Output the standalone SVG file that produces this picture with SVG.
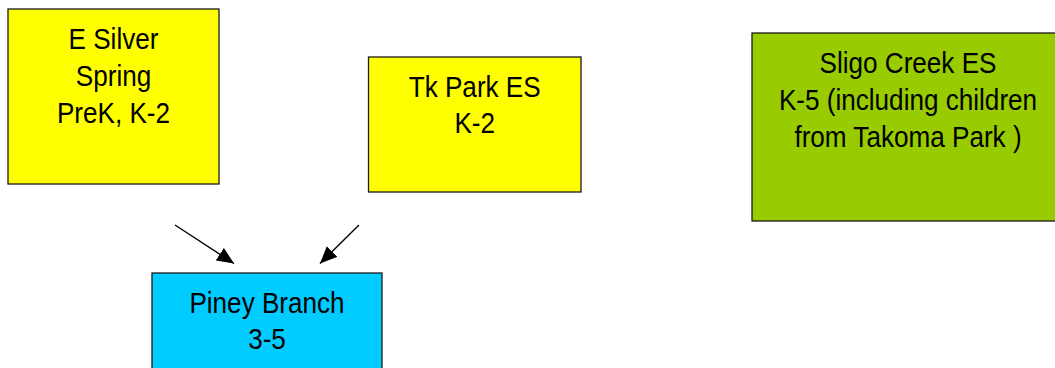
<svg xmlns="http://www.w3.org/2000/svg" width="1055" height="368" viewBox="0 0 1055 368">
<style>
.box{stroke:#1a1a1a;stroke-width:1.3}
.t{font-family:"Liberation Sans",Arial,sans-serif;font-size:29.5px;fill:#000;text-anchor:middle}
.c{stroke:#000;stroke-width:1.4;fill:none}
</style>
<defs>
<marker id="ah" markerUnits="userSpaceOnUse" markerWidth="18" markerHeight="16" refX="17" refY="8" orient="auto">
<path d="M0,0.5 L17,8 L0,15.5 z" fill="#000"/>
</marker>
</defs>
<rect width="1055" height="368" fill="#fff"/>
<g id="e-silver-spring">
<rect class="box" x="8" y="9" width="211" height="175" fill="#ffff00"/>
<g transform="translate(113.5,0) scale(0.885,1)">
<text class="t" x="0" y="49.3">E Silver</text>
<text class="t" x="0" y="86">Spring</text>
<text class="t" x="0" y="122.7">PreK, K-2</text>
</g>
</g>
<g id="tk-park-es">
<rect class="box" x="368.5" y="57" width="212.5" height="135" fill="#ffff00"/>
<g transform="translate(474.7,0) scale(0.885,1)">
<text class="t" x="0" y="96.7">Tk Park ES</text>
<text class="t" x="0" y="133.4">K-2</text>
</g>
</g>
<g id="sligo-creek-es">
<rect class="box" x="752" y="33" width="320" height="188" fill="#99cc00"/>
<g transform="translate(908,0) scale(0.885,1)">
<text class="t" x="0" y="73.5">Sligo Creek ES</text>
<text class="t" x="0" y="110.5">K-5 (including children</text>
<text class="t" x="0" y="147.3">from Takoma Park )</text>
</g>
</g>
<g id="piney-branch">
<rect class="box" x="152" y="273" width="230" height="110" fill="#00ccff"/>
<g transform="translate(267,0) scale(0.885,1)">
<text class="t" x="0" y="313">Piney Branch</text>
<text class="t" x="0" y="349.5">3-5</text>
</g>
</g>
<g id="connectors">
<line class="c" x1="175" y1="225" x2="234" y2="263.5" marker-end="url(#ah)"/>
<line class="c" x1="359" y1="225" x2="320" y2="263.5" marker-end="url(#ah)"/>
</g>
</svg>
